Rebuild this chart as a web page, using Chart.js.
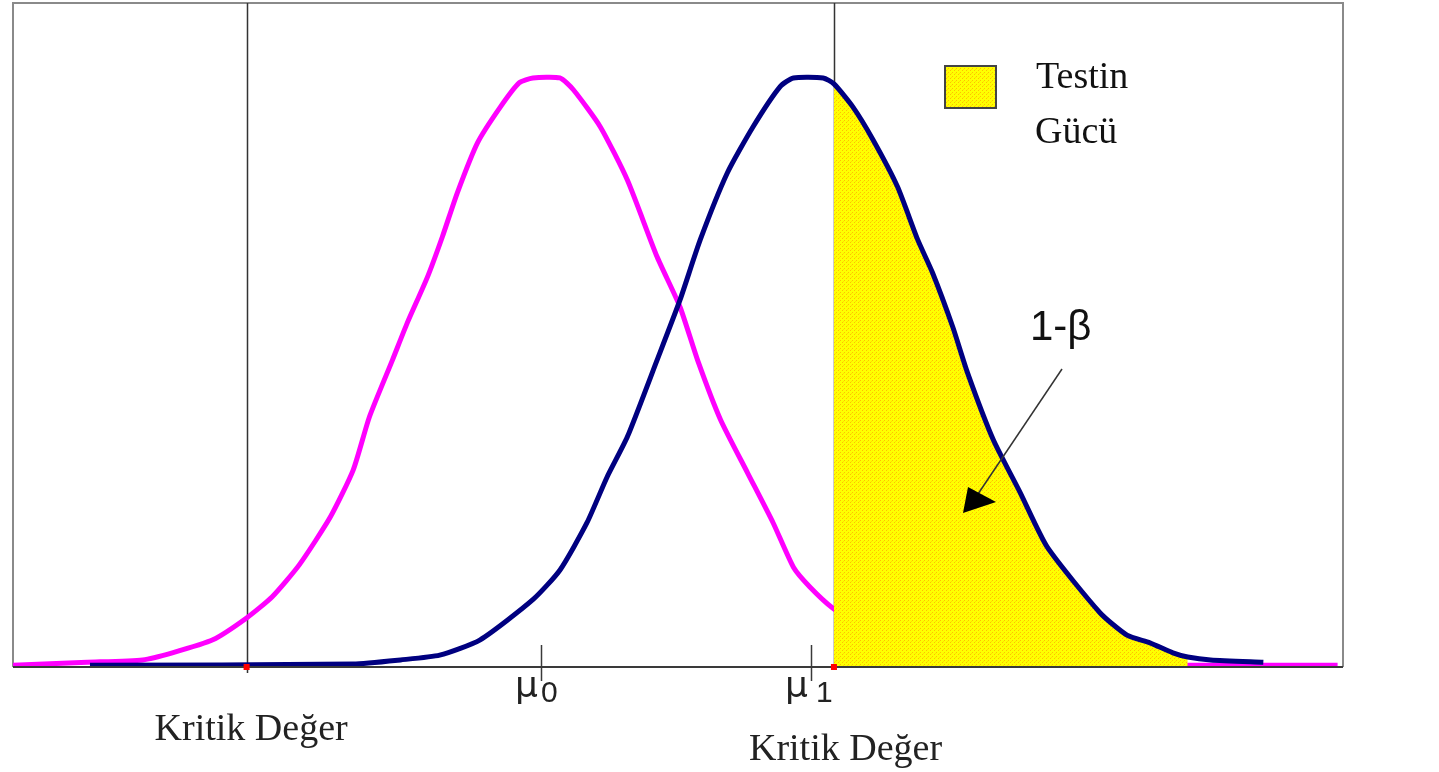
<!DOCTYPE html>
<html>
<head>
<meta charset="utf-8">
<script src="https://cdn.jsdelivr.net/npm/chart.js@4.4.1/dist/chart.umd.min.js"></script>
<style>
    html, body { margin: 0; padding: 0; background: #fff; }
    #chart { display: block; }
</style>
</head>
<body>
<canvas id="chart" width="1439" height="772"></canvas>
<script>
// x in sigma units (mu0 = 0), y relative to the peak height
var h0X = [-3.91, -3.36, -2.95, -2.73, -2.43, -2.18, -1.99, -1.79, -1.56, -1.39, -1.27, -1.10, -0.99, -0.84, -0.73, -0.62, -0.47, -0.30, -0.16, -0.06, 0.14, 0.24, 0.44, 0.64, 0.86, 1.03, 1.16, 1.33, 1.53, 1.72, 1.87, 1.99, 2.16, 2.40, 2.80, 3.30, 3.90, 4.79, 5.90];
var h0Y = [0.003, 0.008, 0.012, 0.024, 0.046, 0.083, 0.119, 0.173, 0.254, 0.334, 0.424, 0.520, 0.583, 0.661, 0.729, 0.803, 0.888, 0.949, 0.990, 0.998, 0.998, 0.978, 0.915, 0.825, 0.695, 0.610, 0.520, 0.419, 0.329, 0.244, 0.169, 0.136, 0.100, 0.065, 0.030, 0.012, 0.005, 0.003, 0.003];

var h1X = [-3.34, -1.39, -1.04, -0.75, -0.45, -0.06, 0.14, 0.34, 0.49, 0.64, 0.86, 1.03, 1.18, 1.38, 1.57, 1.77, 1.87, 2.09, 2.17, 2.31, 2.46, 2.64, 2.79, 2.90, 3.05, 3.16, 3.35, 3.55, 3.75, 4.14, 4.34, 4.51, 4.68, 4.79, 4.96, 5.35];
var h1Y = [0.003, 0.005, 0.012, 0.020, 0.046, 0.114, 0.164, 0.244, 0.322, 0.390, 0.520, 0.622, 0.724, 0.837, 0.915, 0.983, 0.998, 0.998, 0.988, 0.949, 0.893, 0.814, 0.724, 0.668, 0.576, 0.498, 0.385, 0.295, 0.203, 0.092, 0.054, 0.041, 0.024, 0.017, 0.012, 0.008];

var critValues = [-2.18, 2.17];
var powerEnd = 4.79;
var muValues = [0, 2];
var muSubs = ['0', '1'];
var critLabel = 'Kritik Değer';
var legendLines = ['Testin', 'Gücü'];
var powerLabel = '1-β';

function toPoints(xs, ys) {
    return xs.map(function(x, i) { return { x: x, y: ys[i] }; });
}

var h1Points = toPoints(h1X, h1Y);
var powerPoints = h1Points.filter(function(p) { return p.x >= critValues[1] && p.x <= powerEnd; });

var canvas = document.getElementById('chart');
var ctx = canvas.getContext('2d');

// dithered yellow like the original gif
var tile = document.createElement('canvas');
tile.width = 4; tile.height = 4;
var tg = tile.getContext('2d');
tg.fillStyle = '#ffff00';
tg.fillRect(0, 0, 4, 4);
tg.fillStyle = '#ffc000';
tg.fillRect(0, 0, 1, 1);
tg.fillRect(2, 2, 1, 1);
tg.fillStyle = '#ffe000';
tg.fillRect(3, 1, 1, 1);
var yellow = ctx.createPattern(tile, 'repeat');

var decorations = {
    id: 'decorations',
    beforeDatasetsDraw: function(chart) {
        var c = chart.ctx, a = chart.chartArea;
        var sx = chart.scales.x;
        c.save();
        // frame
        c.strokeStyle = '#8a8a8a';
        c.lineWidth = 2;
        c.beginPath();
        c.moveTo(a.left, a.bottom); c.lineTo(a.left, a.top);
        c.lineTo(a.right, a.top); c.lineTo(a.right, a.bottom);
        c.stroke();
        // critical value lines
        c.strokeStyle = '#333';
        c.lineWidth = 1.5;
        critValues.forEach(function(v, i) {
            var x = Math.round(sx.getPixelForValue(v)) + 0.5;
            c.beginPath();
            c.moveTo(x, a.top);
            c.lineTo(x, a.bottom + (i === 0 ? 6 : 0));
            c.stroke();
        });
        c.restore();
    },
    afterDatasetsDraw: function(chart) {
        var c = chart.ctx, a = chart.chartArea;
        var sx = chart.scales.x, sy = chart.scales.y;
        var y0 = sy.getPixelForValue(0);
        c.save();
        // axis line
        c.strokeStyle = '#3a3a3a';
        c.lineWidth = 2;
        c.beginPath();
        c.moveTo(a.left, y0); c.lineTo(a.right, y0);
        c.stroke();
        // mu ticks
        c.lineWidth = 1.5;
        muValues.forEach(function(v) {
            var x = Math.round(sx.getPixelForValue(v)) + 0.5;
            c.beginPath();
            c.moveTo(x, y0 - 22);
            c.lineTo(x, y0 + 14);
            c.stroke();
        });
        // red dots on critical values
        c.fillStyle = '#ff0000';
        critValues.forEach(function(v) {
            var x = sx.getPixelForValue(v);
            c.fillRect(x - 3, y0 - 3, 6, 6);
        });
        // mu labels
        c.fillStyle = '#222';
        c.textBaseline = 'alphabetic';
        muValues.forEach(function(v, i) {
            var x = sx.getPixelForValue(v);
            c.font = '36px "DejaVu Sans", sans-serif';
            c.fillText('μ', x - 26, y0 + 30);
            c.font = '30px "Liberation Sans", Arial, sans-serif';
            c.fillText(muSubs[i], x + (i === 0 ? 0 : 5), y0 + 35);
        });
        // critical value labels
        c.font = '38px "Liberation Serif", "Times New Roman", serif';
        c.fillText(critLabel, sx.getPixelForValue(critValues[0]) - 92, y0 + 73);
        c.fillText(critLabel, sx.getPixelForValue(critValues[1]) - 85, y0 + 93);
        // legend
        c.fillStyle = yellow;
        c.fillRect(945, 66, 51, 42);
        c.strokeStyle = '#444';
        c.lineWidth = 2;
        c.strokeRect(945, 66, 51, 42);
        c.fillStyle = '#111';
        c.fillText(legendLines[0], 1036, 88);
        c.fillText(legendLines[1], 1035, 143);
        // 1-beta with arrow
        c.font = '42px "Liberation Sans", Arial, sans-serif';
        c.fillText(powerLabel, 1030, 340);
        c.strokeStyle = '#333';
        c.lineWidth = 1.5;
        c.beginPath();
        c.moveTo(1062, 369);
        c.lineTo(978, 494);
        c.stroke();
        c.fillStyle = '#000';
        c.beginPath();
        c.moveTo(963, 513);
        c.lineTo(968, 487);
        c.lineTo(996, 502);
        c.closePath();
        c.fill();
        c.restore();
    }
};

new Chart(ctx, {
    type: 'scatter',
    data: {
        datasets: [{
            label: 'H1',
            data: h1Points,
            showLine: true,
            borderColor: '#000080',
            borderWidth: 5,
            pointRadius: 0,
            tension: 0.2,
            fill: false,
            order: 0
        }, {
            label: 'Testin Gücü',
            data: powerPoints,
            showLine: true,
            borderWidth: 0,
            borderColor: 'rgba(0,0,0,0)',
            backgroundColor: yellow,
            pointRadius: 0,
            tension: 0.2,
            fill: 'origin',
            order: 1
        }, {
            label: 'H0',
            data: toPoints(h0X, h0Y),
            showLine: true,
            borderColor: '#ff00ff',
            borderWidth: 5,
            pointRadius: 0,
            tension: 0.2,
            fill: false,
            order: 2
        }]
    },
    options: {
        responsive: false,
        animation: false,
        layout: { padding: { left: 13, top: 3, right: 96, bottom: 105 } },
        plugins: {
            legend: { display: false },
            tooltip: { enabled: false }
        },
        scales: {
            x: { type: 'linear', min: -3.91, max: 5.94, display: false },
            y: { min: 0, max: 1.125, display: false }
        }
    },
    plugins: [decorations]
});
</script>
</body>
</html>
